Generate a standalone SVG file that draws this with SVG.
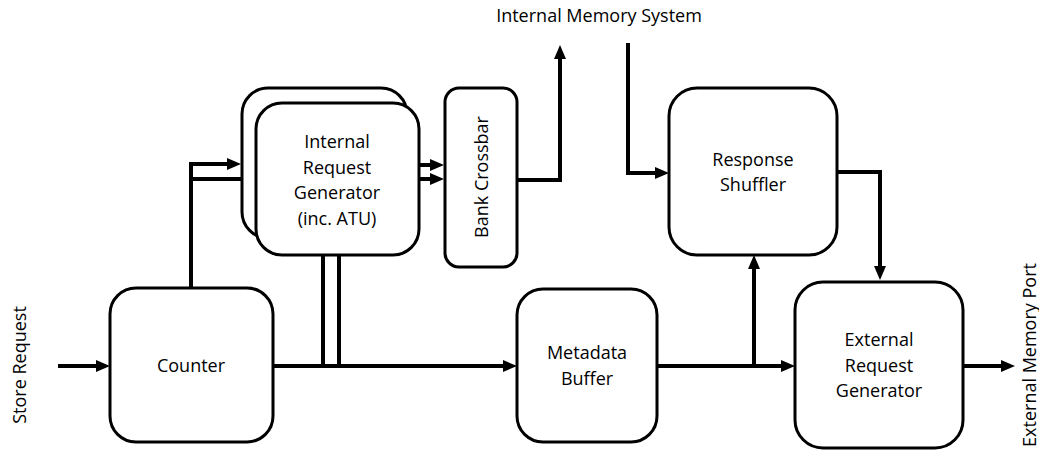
<svg xmlns="http://www.w3.org/2000/svg" width="1039" height="451" viewBox="0 0 1039 451">
<style>
.box{fill:#fff;stroke:#000;stroke-width:3}
.ln{fill:none;stroke:#000;stroke-width:4;stroke-linejoin:miter}
.arr{marker-end:url(#ah)}
text{font-family:"Open Sans","Liberation Sans",Arial,sans-serif;font-size:18px;fill:#000;text-anchor:middle}
</style>
<defs>
<marker id="ah" markerUnits="userSpaceOnUse" markerWidth="16" markerHeight="14" refX="4" refY="6" orient="auto">
<path d="M0,0 L14,6 L0,12 z" fill="#000"/>
</marker>
</defs>
<rect width="1039" height="451" fill="#fff"/>
<g id="connectors">
<line class="ln arr" x1="58" y1="366" x2="100" y2="366"/>
<polyline class="ln arr" points="191,288 191,164 231,164"/>
<polyline class="ln arr" points="191,179 246,179"/>
<line class="ln arr" x1="419" y1="165" x2="434" y2="165"/>
<line class="ln arr" x1="419" y1="179" x2="434" y2="179"/>
<polyline class="ln arr" points="517,180 560,180 560,55"/>
<polyline class="ln arr" points="628,43 628,173 659,173"/>
<polyline class="ln arr" points="837,172 880,172 880,270"/>
<line class="ln arr" x1="273" y1="366" x2="507" y2="366"/>
<line class="ln" x1="323" y1="255" x2="323" y2="366"/>
<line class="ln" x1="339" y1="255" x2="339" y2="366"/>
<line class="ln arr" x1="657" y1="366" x2="785" y2="366"/>
<line class="ln arr" x1="754" y1="366" x2="754" y2="265"/>
<line class="ln arr" x1="963" y1="366" x2="1005" y2="366"/>
</g>
<g id="store-request"><text transform="translate(26,365) rotate(-90)">Store Request</text></g>
<g id="internal-memory-system"><text x="599" y="22">Internal Memory System</text></g>
<g id="external-memory-port"><text transform="translate(1036,355) rotate(-90)">External Memory Port</text></g>
<g id="counter">
<rect class="box" x="110" y="288" width="163" height="154" rx="26"/>
<text x="191" y="372">Counter</text>
</g>
<g id="internal-request-generator">
<rect class="box" x="242" y="88" width="165" height="150" rx="26"/>
<rect class="box" x="256" y="103" width="163" height="152" rx="26"/>
<text x="337" y="148">Internal</text>
<text x="337" y="174">Request</text>
<text x="337" y="199">Generator</text>
<text x="337" y="225">(inc. ATU)</text>
</g>
<g id="bank-crossbar">
<rect class="box" x="445" y="88" width="72" height="179" rx="14"/>
<text transform="translate(488,177) rotate(-90)">Bank Crossbar</text>
</g>
<g id="response-shuffler">
<rect class="box" x="669" y="88" width="168" height="167" rx="28"/>
<text x="753" y="166">Response</text>
<text x="753" y="191">Shuffler</text>
</g>
<g id="metadata-buffer">
<rect class="box" x="517" y="289" width="140" height="153" rx="26"/>
<text x="587" y="359">Metadata</text>
<text x="587" y="385">Buffer</text>
</g>
<g id="external-request-generator">
<rect class="box" x="795" y="282" width="168" height="166" rx="28"/>
<text x="879" y="346">External</text>
<text x="879" y="372">Request</text>
<text x="879" y="397">Generator</text>
</g>
</svg>
